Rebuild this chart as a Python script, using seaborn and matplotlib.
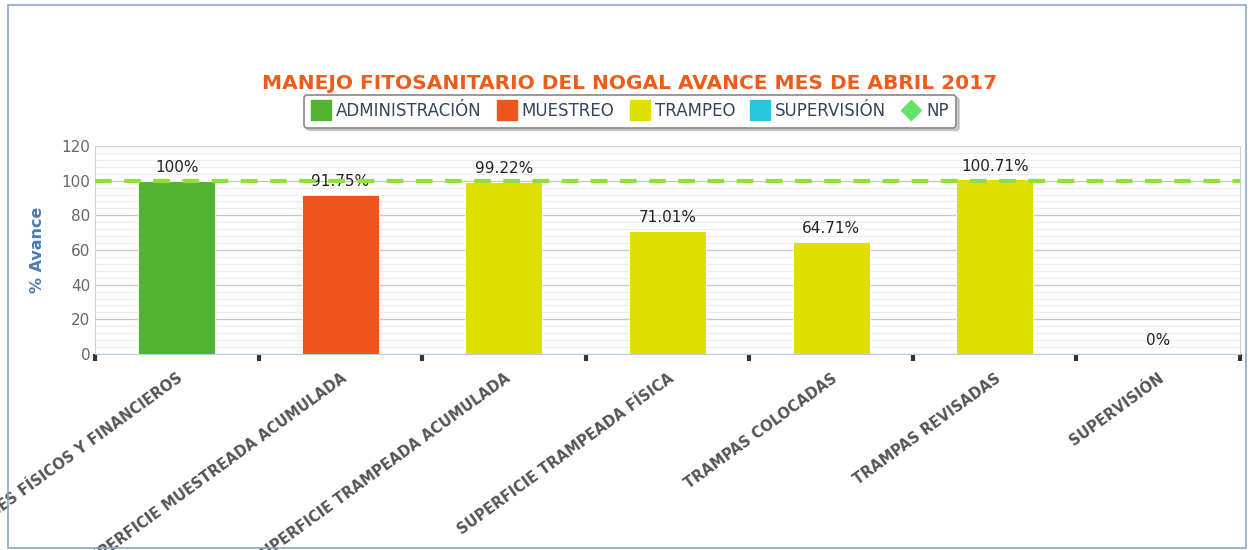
import numpy as np
import pandas as pd
import matplotlib
matplotlib.use("Agg")
import matplotlib.pyplot as plt
from matplotlib.lines import Line2D
from matplotlib.patches import Rectangle
import seaborn as sns

# data
categories = ["AVANCES FÍSICOS Y FINANCIEROS",
              "SUPERFICIE MUESTREADA ACUMULADA",
              "SUPERFICIE TRAMPEADA ACUMULADA",
              "SUPERFICIE TRAMPEADA FÍSICA",
              "TRAMPAS COLOCADAS",
              "TRAMPAS REVISADAS",
              "SUPERVISIÓN"]
values = [100, 91.75, 99.22, 71.01, 64.71, 100.71, 0]
groups = ["ADMINISTRACIÓN", "MUESTREO", "TRAMPEO", "TRAMPEO",
          "TRAMPEO", "TRAMPEO", "SUPERVISIÓN"]
group_order = ["ADMINISTRACIÓN", "MUESTREO", "TRAMPEO", "SUPERVISIÓN"]
group_colors = ["#52b232", "#ec561c", "#dde000", "#25c8e0"]
np_label = "NP"
np_value = 100

df = pd.DataFrame({"cat": categories, "val": values, "grp": groups})
palette = dict(zip(group_order, group_colors))

sns.set_style("white")
plt.rcParams["font.family"] = ["DejaVu Sans"]

fig = plt.figure(figsize=(12.5, 5.5), dpi=100)
ax = fig.add_axes([0.076, 0.3564, 0.916, 0.3781])

sns.barplot(data=df, x="cat", y="val", hue="grp", hue_order=group_order,
            palette=palette, dodge=False, width=0.47, ax=ax, legend=False,
            saturation=1, edgecolor="white", linewidth=0.6)

for cont in ax.containers:
    ax.bar_label(cont, fmt=lambda v: f"{v:g}%", padding=4, fontsize=11,
                 color="#222222")

# NP reference line
ax.axhline(np_value, color="#8ee03a", lw=3, ls=(0, (4, 3)), zorder=3)

ax.set_xlim(-0.5, len(categories) - 0.5)
ax.set_ylim(0, 120)
ax.set_yticks(np.arange(0, 121, 20))
ax.set_yticks(np.arange(0, 121, 4), minor=True)
ax.grid(axis="y", which="major", color="#c8c8c8", lw=1)
ax.grid(axis="y", which="minor", color="#ececec", lw=0.8)
ax.set_axisbelow(True)

ax.set_xticks(range(len(categories)))
ax.set_xticklabels(categories, rotation=36, ha="right", va="top",
                   rotation_mode="anchor", fontsize=10.5, fontweight="bold",
                   color="#555555")
ax.set_xticks(np.arange(-0.5, len(categories), 1), minor=True)
ax.tick_params(axis="x", which="major", bottom=False, length=0, pad=12)
ax.tick_params(axis="x", which="minor", bottom=True, length=5, width=3,
               color="#333333", direction="out")
ax.tick_params(axis="y", which="both", left=False, length=0, labelsize=11,
               labelcolor="#666666")

for s in ["left", "right", "top"]:
    ax.spines[s].set_color("#d0d0d0")
ax.spines["bottom"].set_color("#b8cce4")

ax.set_xlabel("")
ax.set_ylabel("% Avance", fontsize=11.5, fontweight="bold", color="#4a7ab5",
              labelpad=12)

fig.text(0.504, 0.848, "MANEJO FITOSANITARIO DEL NOGAL AVANCE MES DE ABRIL 2017",
         ha="center", va="center", fontsize=14.5, fontweight="bold",
         color="#f05a1a")

handles = [Line2D([], [], marker="s", ls="", markersize=15,
                  markerfacecolor=c, markeredgecolor=c) for c in group_colors]
handles.append(Line2D([], [], marker="D", ls="", markersize=10,
                      markerfacecolor="#66e066", markeredgecolor="#66e066"))
leg = fig.legend(handles, group_order + [np_label], loc="center",
                 bbox_to_anchor=(0.504, 0.798), ncol=5, fontsize=12,
                 frameon=True, fancybox=True,
                 shadow={"ox": 2, "oy": -2, "alpha": 0.25},
                 handletextpad=0.3, columnspacing=0.9, borderpad=0.45,
                 handlelength=1.2)
leg.get_frame().set_edgecolor("#888888")
leg.get_frame().set_linewidth(1.2)
for t in leg.get_texts():
    t.set_color("#34455f")

fig.patches.append(Rectangle((0.0065, 0.004), 0.99, 0.987,
                             transform=fig.transFigure, fill=False,
                             edgecolor="#8aa6cc", lw=1.2))

fig.savefig("out.png", dpi=100)
